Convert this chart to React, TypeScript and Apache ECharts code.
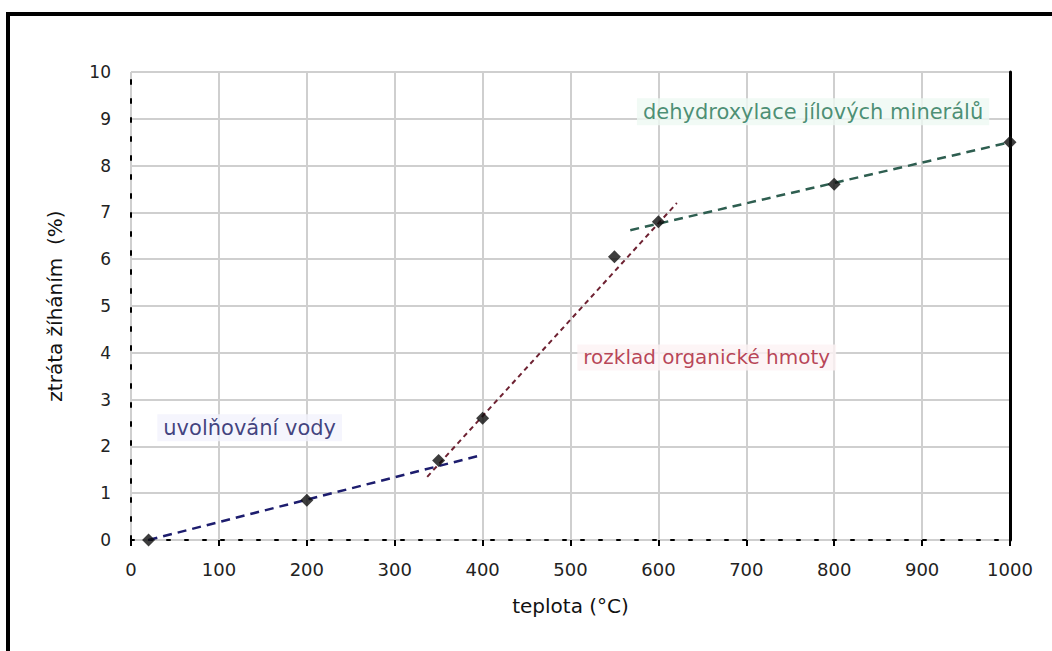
import React, { useEffect, useRef } from "react";
import * as echarts from "echarts";

const FONT = "DejaVu Sans";

// measured points: temperature (°C) and loss on ignition (%)
const temps = [20, 200, 350, 400, 550, 600, 800, 1000];
const losses = [0, 0.85, 1.7, 2.6, 6.05, 6.8, 7.6, 8.5];

// trend lines (end points)
const waterLineX = [20, 400];
const waterLineY = [0, 1.82];
const organicLineX = [337, 621];
const organicLineY = [1.35, 7.2];
const clayLineX = [568, 1000];
const clayLineY = [6.62, 8.5];

// annotations
const noteTexts = ["uvolňování vody", "rozklad organické hmoty", "dehydroxylace jílových minerálů"];
const noteX = [135, 655, 776];
const noteY = [2.4, 3.9, 9.15];
const noteSizes = [21, 20, 21];
const noteColors = ["#12125e", "#a6142e", "#1f7353"];
const noteBgs = ["#f3f3fd", "#fdf2f4", "#eef9f3"];

const xTicks = [0, 100, 200, 300, 400, 500, 600, 700, 800, 900, 1000];

export default function App() {
  const ref = useRef<HTMLDivElement>(null);
  useEffect(() => {
    if (!ref.current) return;
    const chart = echarts.init(ref.current, null, { renderer: "svg" });
    const pair = (xs: number[], ys: number[]) => xs.map((x, i) => [x, ys[i]]);
    chart.setOption({
      animation: false,
      backgroundColor: "#ffffff",
      grid: { left: 131, right: 42, top: 72, bottom: 111 },
      graphic: [
        {
          type: "rect",
          shape: { x: 8, y: 14, width: 1200, height: 800 },
          style: { fill: "none", stroke: "#000", lineWidth: 4 },
          silent: true,
        },
      ],
      xAxis: {
        type: "value",
        min: xTicks[0],
        max: xTicks[xTicks.length - 1],
        interval: 100,
        name: "teplota (°C)",
        nameLocation: "middle",
        nameGap: 56,
        nameTextStyle: { fontFamily: FONT, fontSize: 20, color: "#111" },
        axisLine: { show: true, lineStyle: { color: "#000", width: 2, type: [3, 15] } },
        axisTick: { show: true, length: 6, lineStyle: { color: "#000", width: 2 } },
        axisLabel: {
          fontFamily: FONT,
          fontSize: 18,
          color: "#222",
          margin: 20,
          formatter: (v: number) => String(v),
        },
        splitLine: { show: true, lineStyle: { color: "#cfcfcf", width: 2 } },
      },
      yAxis: [
        {
          type: "value",
          min: 0,
          max: 10,
          interval: 1,
          name: "ztráta žíháním  (%)",
          nameLocation: "middle",
          nameGap: 66,
          nameTextStyle: { fontFamily: FONT, fontSize: 20, color: "#111" },
          axisLine: { show: true, lineStyle: { color: "#000", width: 2, type: [4, 15] } },
          axisTick: { show: false },
          axisLabel: { fontFamily: FONT, fontSize: 17, color: "#222", margin: 20 },
          splitLine: { show: true, lineStyle: { color: "#cfcfcf", width: 2 } },
        },
        {
          type: "value",
          min: 0,
          max: 10,
          interval: 1,
          position: "right",
          axisLine: { show: true, lineStyle: { color: "#000", width: 3 } },
          axisTick: { show: false },
          axisLabel: { show: false },
          splitLine: { show: false },
        },
      ],
      series: [
        {
          type: "line",
          data: pair(waterLineX, waterLineY),
          symbol: "none",
          lineStyle: { color: "#1d1d6e", width: 2.5, type: [9, 6] },
          z: 3,
        },
        {
          type: "line",
          data: pair(organicLineX, organicLineY),
          symbol: "none",
          lineStyle: { color: "#6e2232", width: 2, type: [5, 4] },
          z: 3,
        },
        {
          type: "line",
          data: pair(clayLineX, clayLineY),
          symbol: "none",
          lineStyle: { color: "#2e5e50", width: 2.5, type: [9, 6] },
          z: 3,
        },
        {
          type: "scatter",
          data: pair(temps, losses),
          symbol: "diamond",
          symbolSize: 13,
          itemStyle: { color: "#0d0d0d" },
          z: 5,
        },
        {
          type: "scatter",
          symbolSize: 1,
          itemStyle: { color: "rgba(0,0,0,0)" },
          silent: true,
          z: 4,
          data: noteTexts.map((t, i) => ({
            name: t,
            value: [noteX[i], noteY[i]],
            label: {
              show: true,
              position: "inside",
              formatter: "{b}",
              fontFamily: FONT,
              fontSize: noteSizes[i],
              color: noteColors[i],
              backgroundColor: noteBgs[i],
              padding: [3, 6],
            },
          })),
        },
      ],
    });
    return () => chart.dispose();
  }, []);
  return (
    <div
      ref={ref}
      style={{ position: "absolute", left: 0, top: 0, width: 1052, height: 651 }}
    />
  );
}
